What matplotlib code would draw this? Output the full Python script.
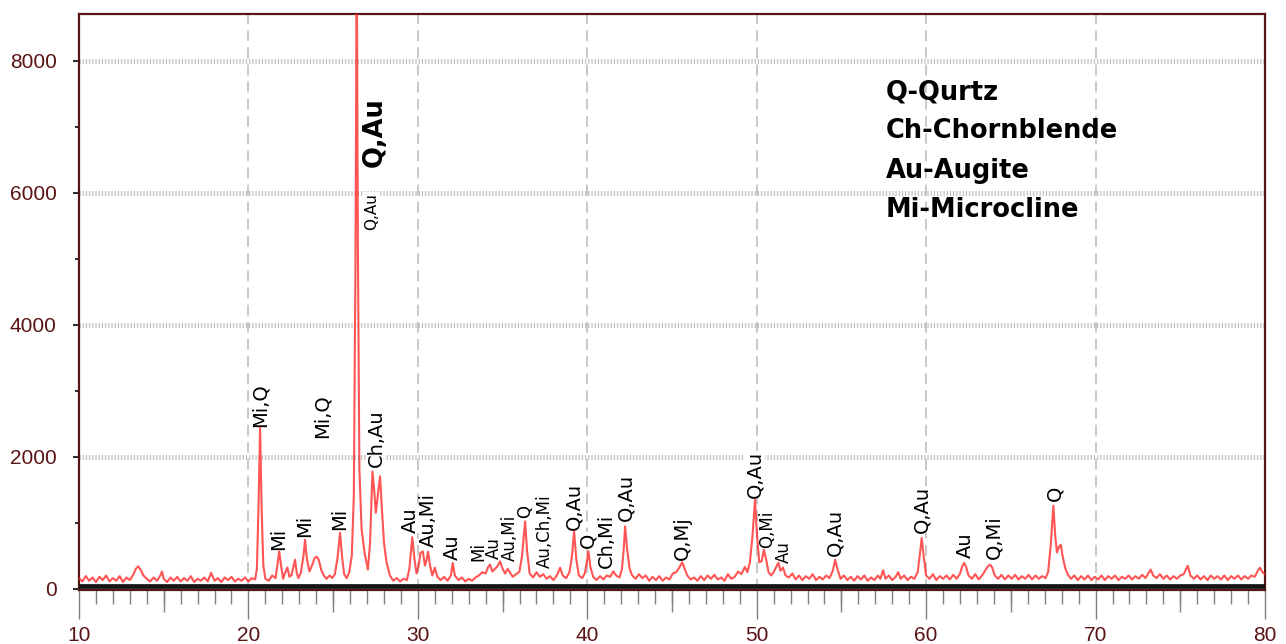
import matplotlib.pyplot as plt
from matplotlib.ticker import MultipleLocator

# diffractogram trace, (2theta, counts)
pattern = [
    (10.0, 160), (10.2, 110), (10.4, 190), (10.6, 120), (10.8, 170), (11.0, 100),
    (11.2, 180), (11.4, 130), (11.6, 200), (11.8, 110), (12.0, 160), (12.2, 120),
    (12.4, 190), (12.6, 100), (12.8, 170), (13.0, 130), (13.2, 210), (13.35, 300),
    (13.5, 340), (13.65, 280), (13.8, 200), (14.0, 150), (14.2, 110), (14.4, 170),
    (14.6, 120), (14.8, 200), (14.9, 260), (15.0, 150), (15.2, 100), (15.4, 170),
    (15.6, 120), (15.8, 180), (16.0, 110), (16.2, 160), (16.4, 120), (16.6, 190),
    (16.8, 100), (17.0, 150), (17.2, 120), (17.4, 170), (17.6, 110), (17.8, 240),
    (18.0, 120), (18.2, 160), (18.4, 100), (18.6, 170), (18.8, 130), (19.0, 180),
    (19.2, 110), (19.4, 150), (19.6, 120), (19.8, 170), (20.0, 110), (20.2, 160),
    (20.4, 140), (20.5, 300), (20.6, 1300), (20.69, 2440), (20.78, 1200), (20.88, 350),
    (21.0, 150), (21.2, 120), (21.4, 200), (21.6, 160), (21.72, 380), (21.82, 565),
    (21.92, 360), (22.05, 150), (22.15, 230), (22.3, 320), (22.42, 180), (22.55, 210),
    (22.65, 330), (22.75, 440), (22.85, 240), (22.95, 160), (23.1, 250), (23.25, 500),
    (23.34, 742), (23.45, 450), (23.6, 260), (23.75, 350), (23.9, 460), (24.03, 485),
    (24.15, 440), (24.3, 280), (24.45, 200), (24.6, 150), (24.8, 200), (24.95, 160),
    (25.1, 220), (25.25, 450), (25.41, 848), (25.52, 500), (25.65, 220), (25.8, 160),
    (25.95, 250), (26.1, 500), (26.22, 1400), (26.32, 5000), (26.39, 9800), (26.46, 5200),
    (26.55, 1800), (26.68, 900), (26.85, 550), (27.05, 290), (27.18, 700), (27.32, 1777),
    (27.42, 1500), (27.52, 1150), (27.65, 1450), (27.77, 1702), (27.88, 1200), (28.0, 700),
    (28.15, 400), (28.35, 200), (28.55, 120), (28.75, 160), (28.95, 110), (29.15, 150),
    (29.35, 130), (29.5, 300), (29.67, 780), (29.8, 450), (29.92, 230), (30.05, 350),
    (30.15, 540), (30.29, 565), (30.42, 350), (30.5, 420), (30.6, 560), (30.72, 350),
    (30.85, 200), (31.0, 320), (31.15, 180), (31.35, 130), (31.55, 180), (31.75, 120),
    (31.95, 200), (32.06, 390), (32.18, 200), (32.4, 130), (32.6, 170), (32.8, 110),
    (33.0, 150), (33.2, 120), (33.4, 170), (33.6, 200), (33.8, 250), (34.0, 230),
    (34.15, 330), (34.26, 364), (34.4, 260), (34.55, 300), (34.7, 340), (34.85, 414),
    (35.0, 300), (35.15, 230), (35.3, 300), (35.45, 240), (35.6, 180), (35.8, 220),
    (36.0, 260), (36.15, 500), (36.33, 1020), (36.45, 560), (36.6, 230), (36.8, 170),
    (37.0, 250), (37.2, 180), (37.4, 220), (37.6, 150), (37.8, 190), (38.0, 130),
    (38.2, 200), (38.4, 318), (38.55, 200), (38.75, 160), (38.95, 250), (39.1, 500),
    (39.22, 868), (39.35, 450), (39.5, 200), (39.7, 160), (39.85, 230), (39.97, 400),
    (40.07, 565), (40.18, 330), (40.35, 180), (40.55, 130), (40.75, 190), (40.95, 140),
    (41.15, 200), (41.35, 180), (41.54, 262), (41.7, 200), (41.9, 170), (42.05, 300),
    (42.15, 600), (42.23, 944), (42.35, 600), (42.5, 300), (42.65, 200), (42.85, 150),
    (43.05, 220), (43.25, 160), (43.45, 200), (43.65, 120), (43.85, 180), (44.05, 130),
    (44.25, 190), (44.45, 120), (44.65, 170), (44.85, 140), (45.05, 230), (45.25, 250),
    (45.45, 330), (45.6, 400), (45.75, 300), (45.9, 200), (46.1, 140), (46.3, 170),
    (46.5, 120), (46.7, 190), (46.9, 130), (47.1, 200), (47.3, 150), (47.5, 210),
    (47.7, 140), (47.9, 170), (48.1, 120), (48.3, 220), (48.5, 150), (48.7, 180),
    (48.9, 260), (49.1, 220), (49.3, 330), (49.45, 250), (49.6, 400), (49.75, 800),
    (49.9, 1348), (50.02, 800), (50.15, 400), (50.3, 420), (50.42, 591), (50.55, 450),
    (50.7, 250), (50.85, 200), (51.0, 250), (51.15, 330), (51.28, 394), (51.4, 270),
    (51.55, 320), (51.7, 200), (51.9, 170), (52.1, 230), (52.3, 140), (52.5, 200),
    (52.7, 130), (52.9, 190), (53.1, 150), (53.3, 220), (53.5, 130), (53.7, 180),
    (53.9, 140), (54.1, 200), (54.3, 160), (54.5, 280), (54.63, 440), (54.78, 280),
    (54.95, 150), (55.15, 200), (55.35, 130), (55.55, 180), (55.75, 120), (55.95, 190),
    (56.15, 140), (56.35, 200), (56.55, 120), (56.75, 170), (56.95, 130), (57.15, 200),
    (57.3, 150), (57.46, 280), (57.6, 150), (57.8, 200), (58.0, 130), (58.2, 180),
    (58.35, 250), (58.5, 150), (58.7, 200), (58.9, 130), (59.1, 180), (59.3, 150),
    (59.5, 250), (59.62, 500), (59.74, 768), (59.86, 480), (60.0, 200), (60.2, 150),
    (60.4, 220), (60.6, 130), (60.8, 190), (61.0, 150), (61.2, 200), (61.4, 140),
    (61.6, 210), (61.8, 150), (62.0, 230), (62.12, 330), (62.24, 389), (62.36, 330),
    (62.5, 200), (62.7, 150), (62.9, 220), (63.1, 140), (63.3, 200), (63.5, 280),
    (63.65, 340), (63.78, 364), (63.9, 320), (64.05, 200), (64.25, 150), (64.45, 210),
    (64.65, 140), (64.85, 200), (65.05, 150), (65.25, 210), (65.45, 140), (65.65, 190),
    (65.85, 150), (66.05, 210), (66.25, 140), (66.45, 200), (66.65, 150), (66.85, 190),
    (67.05, 160), (67.2, 250), (67.35, 650), (67.51, 1257), (67.62, 800), (67.72, 550),
    (67.85, 640), (67.95, 667), (68.05, 500), (68.2, 320), (68.35, 220), (68.55, 150),
    (68.75, 200), (68.95, 130), (69.15, 190), (69.35, 140), (69.55, 200), (69.75, 130),
    (69.95, 180), (70.15, 140), (70.35, 200), (70.55, 130), (70.75, 190), (70.95, 150),
    (71.15, 200), (71.35, 130), (71.55, 180), (71.75, 150), (71.95, 200), (72.15, 140),
    (72.35, 190), (72.55, 150), (72.75, 210), (72.95, 160), (73.1, 230), (73.26, 288),
    (73.4, 200), (73.6, 160), (73.8, 220), (74.0, 150), (74.2, 200), (74.4, 140),
    (74.6, 190), (74.8, 150), (75.0, 200), (75.2, 220), (75.44, 348), (75.6, 200),
    (75.8, 150), (76.0, 200), (76.2, 140), (76.4, 190), (76.6, 130), (76.8, 200),
    (77.0, 150), (77.2, 190), (77.4, 140), (77.6, 200), (77.8, 130), (78.0, 190),
    (78.2, 150), (78.4, 200), (78.6, 140), (78.8, 190), (79.0, 150), (79.2, 200),
    (79.4, 180), (79.55, 260), (79.7, 318), (79.85, 250), (80.0, 220),
]
two_theta = [p[0] for p in pattern]
counts = [p[1] for p in pattern]

# instrument background line
background_theta = [10, 80]
background_counts = [35, 35]

# phase labels above the reflections
peak_labels = ["Mi,Q", "Mi", "Mi", "Mi,Q", "Mi", "Ch,Au", "Au", "Au,Mi", "Au",
               "Mi", "Au", "Au,Mi", "Q", "Au,Ch,Mi", "Q,Au", "Q", "Ch,Mi", "Q,Au",
               "Q,Mj", "Q,Au", "Q,Mi", "Au", "Q,Au", "Q,Au", "Au", "Q,Mi", "Q"]
label_theta = [20.69, 21.81, 23.34, 24.33, 25.37, 27.53, 29.58, 30.62, 32.06,
               33.55, 34.50, 35.45, 36.36, 37.50, 39.18, 40.03, 41.15, 42.29,
               45.64, 49.91, 50.62, 51.62, 54.63, 59.74, 62.30, 64.02, 67.62]
label_counts = [2454, 590, 790, 2290, 890, 1850, 850, 630, 440,
                414, 455, 414, 1071, 318, 894, 621, 313, 1020,
                440, 1374, 616, 389, 490, 844, 465, 450, 1323]
# crowded groups get a smaller font
label_sizes = [14, 14, 14, 14, 14, 14, 14, 14, 14,
               12, 12, 12, 12, 12, 14, 14, 14, 14,
               14, 14, 12, 12, 14, 14, 14, 14, 14]

main_label_theta = [27.28, 27.47]
main_label_counts = [5440, 6390]

phase_key = ["Q-Qurtz", "Ch-Chornblende", "Au-Augite", "Mi-Microcline"]

maroon = "#5a1414"

fig = plt.figure(figsize=(12.86, 6.44), dpi=100)
ax = fig.add_axes([79 / 1286, 1 - 590 / 644, 1186 / 1286, 576 / 644])

ax.plot(background_theta, background_counts, color="#141414", lw=3.4, zorder=3)
ax.plot(two_theta, counts, color="#ff2a2a", lw=1.5, alpha=0.8, zorder=4)

ax.set_xlim(10, 80)
ax.set_ylim(-20, 8710)

ax.xaxis.set_major_locator(MultipleLocator(10))
ax.xaxis.set_minor_locator(MultipleLocator(1))
ax.yaxis.set_major_locator(MultipleLocator(2000))
ax.yaxis.set_minor_locator(MultipleLocator(1000))

ax.tick_params(axis="x", which="major", length=21, width=1, color="#808080",
               pad=5, labelsize=15, labelcolor=maroon)
ax.tick_params(axis="x", which="minor", length=10, width=1, color="#808080")
ax.tick_params(axis="y", which="major", length=4, width=1.5, color="#303030",
               pad=12, labelsize=15, labelcolor=maroon)
ax.tick_params(axis="y", which="minor", length=3, width=1.5, color="#303030")
for lab in ax.get_xticklabels() + ax.get_yticklabels():
    lab.set_family("Liberation Sans")

# medium ticks on the half decades
mid = ax.secondary_xaxis("bottom")
mid.set_xticks([15, 25, 35, 45, 55, 65, 75])
mid.tick_params(length=16, width=1, color="#808080", labelbottom=False)
mid.spines["bottom"].set_visible(False)

ax.set_axisbelow(True)
ax.xaxis.grid(True, color="#c4c4c4", lw=1.3, linestyle=(0, (6, 3.5)))
ax.yaxis.grid(True, color="#b8b8b8", lw=3.6, linestyle=(0, (0.22, 0.42)))

for side in ax.spines.values():
    side.set_color(maroon)
    side.set_linewidth(1.6)

for txt, x, y, fs in zip(peak_labels, label_theta, label_counts, label_sizes):
    ax.text(x, y, txt, rotation=90, ha="center", va="bottom", fontsize=fs,
            family="DejaVu Sans", zorder=3,
            bbox=dict(facecolor="white", edgecolor="none", pad=0.2))

ax.text(main_label_theta[0], main_label_counts[0], "Q,Au", rotation=90,
        ha="center", va="bottom", fontsize=11, family="DejaVu Sans", zorder=3,
        bbox=dict(facecolor="white", edgecolor="none", pad=0.3))
ax.text(main_label_theta[1], main_label_counts[1], "Q,Au", rotation=90,
        ha="center", va="bottom", fontsize=18.5, fontweight="bold",
        family="DejaVu Sans", zorder=3)

for i, entry in enumerate(phase_key):
    ax.text(0.680, 0.887 - i * 0.0682, entry, transform=ax.transAxes,
            ha="left", va="top", fontsize=18.5, fontweight="bold",
            family="DejaVu Sans")

fig.savefig("out.png", dpi=100)
